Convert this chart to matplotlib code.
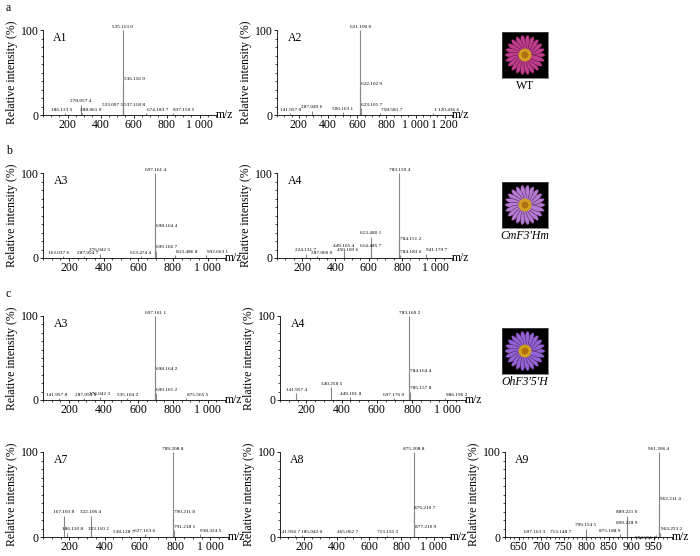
import matplotlib
matplotlib.use("Agg")
import matplotlib.pyplot as plt
from matplotlib.patches import Ellipse, Circle
import numpy as np

plt.rcParams['font.family'] = ['Liberation Serif', 'DejaVu Serif']

# ---- data ----
A1_mz = [186.1133, 278.0574, 288.0610, 533.0975, 535.1130, 536.1169, 537.1188, 674.1837, 837.1505]
A1_int = [2, 12, 2, 8, 100, 38, 8, 2, 2]
A1_lab = ["186.113 3", "278.057 4", "288.061 0", "533.097 5", "535.113 0", "536.116 9", "537.118 8", "674.183 7", "837.150 5"]

A2_mz = [141.9570, 287.0496, 500.1631, 621.1000, 622.1029, 623.1057, 758.5817, 1120.4366]
A2_int = [2, 5, 3, 100, 32, 8, 2, 2]
A2_lab = ["141.957 0", "287.049 6", "500.163 1", "621.100 0", "622.102 9", "623.105 7", "758.581 7", "1 120.436 6"]

B3_mz = [163.0376, 287.0547, 376.0425, 613.4744, 697.1614, 698.1644, 699.1667, 813.4868, 992.6631]
B3_int = [2, 2, 5, 2, 100, 33, 8, 3, 3]
B3_lab = ["163.037 6", "287.054 7", "376.042 5", "613.474 4", "697.161 4", "698.164 4", "699.166 7", "813.486 8", "992.663 1"]

B4_mz = [224.1317, 287.0600, 449.1054, 450.1096, 613.4801, 614.4857, 783.1594, 784.1512, 785.1836, 941.1797]
B4_int = [5, 2, 10, 5, 25, 10, 100, 18, 3, 5]
B4_lab = ["224.131 7", "287.060 0", "449.105 4", "450.109 6", "613.480 1", "614.485 7", "783.159 4", "784.151 2", "784.183 6", "941.179 7"]

C3_mz = [141.9578, 287.0539, 376.0423, 535.1042, 697.1611, 698.1642, 699.1652, 875.5655]
C3_int = [2, 2, 3, 2, 100, 33, 8, 2]
C3_lab = ["141.957 8", "287.053 9", "376.042 3", "535.104 2", "697.161 1", "698.164 2", "699.165 2", "875.565 5"]

C4_mz = [141.9574, 340.2585, 449.1018, 697.1760, 783.1602, 784.1644, 785.1578, 986.1962]
C4_int = [8, 15, 3, 2, 100, 30, 10, 2]
C4_lab = ["141.957 4", "340.258 5", "449.101 8", "697.176 0", "783.160 2", "784.164 4", "785.157 8", "986.196 2"]

D7_mz = [167.1038, 186.1108, 322.1064, 323.1102, 538.1287, 627.1636, 789.2088, 790.2118, 791.2181, 938.3245]
D7_int = [25, 5, 25, 5, 1, 3, 100, 25, 8, 3]
D7_lab = ["167.103 8", "186.110 8", "322.106 4", "323.110 2", "538.128 7", "627.163 6", "789.208 8", "790.211 8", "791.218 1", "938.324 5"]

D8_mz = [141.9567, 185.0420, 465.0627, 713.1552, 875.2088, 876.2107, 877.2109]
D8_int = [2, 2, 1, 2, 100, 30, 8]
D8_lab = ["141.956 7", "185.042 0", "465.062 7", "713.155 2", "875.208 8", "876.210 7", "877.210 9"]

D9_mz = [697.1633, 713.1487, 799.1545, 875.1889, 889.2210, 890.2289, 954.5566, 961.2064, 962.2114, 963.2532]
D9_int = [1, 1, 10, 3, 25, 8, 2, 100, 40, 5]
D9_lab = ["697.163 3", "713.148 7", "799.154 5", "875.188 9", "889.221 0", "890.228 9", "954.556 6", "961.206 4", "962.211 4", "963.253 2"]

# label nudges (fraction of x span, y in %) to avoid clutter
NUDGE = {"186.113 3": (-0.02, 0), "288.061 0": (0.05, 0), "533.097 5": (-0.06, 0),
         "287.054 7": (0.02, 0), "163.037 6": (-0.02, 0), "287.053 9": (0.01, 0),
         "141.957 8": (-0.01, 0), "141.956 7": (-0.03, 0), "185.042 0": (0.06, 0),
         "697.163 3": (-0.03, 0), "713.148 7": (0.08, 0), "875.188 9": (-0.06, 0),
         "890.228 9": (0.0, 4), "954.556 6": (-0.06, -8), "287.060 0": (0.03, 0),
         "450.109 6": (0.02, 0), "186.110 8": (0.03, 0), "323.110 2": (0.04, 0),
         "538.128 7": (-0.03, 0)}

W, H = 700, 556
fig = plt.figure(figsize=(7.0, 5.56), dpi=100)
FS = 8.5
LFS = 3.8

def ax_px(l, r, top, bot):
    return fig.add_axes([l / W, 1 - bot / H, (r - l) / W, (bot - top) / H])

def spectrum(l, r, top, bot, mz, it, lab, name, xlim, xticks, xtl):
    ax = ax_px(l, r, top, bot)
    ax.vlines(mz, 0, it, color='#888888', lw=0.8)
    ax.set_xlim(*xlim)
    ax.set_ylim(0, 100)
    for s in ['top', 'right']:
        ax.spines[s].set_visible(False)
    for s in ['left', 'bottom']:
        ax.spines[s].set_linewidth(0.6)
    ax.set_xticks(xticks)
    ax.set_xticklabels(xtl, fontsize=FS)
    ax.minorticks_on()
    ax.set_yticks([0, 100])
    ax.set_yticklabels(['0', '100'], fontsize=FS)
    ax.set_yticks([10, 20, 30, 40, 50, 60, 70, 80, 90], minor=True)
    ax.tick_params(length=2, width=0.6, pad=1)
    ax.tick_params(which='minor', length=1.2, width=0.5)
    ax.set_ylabel('Relative intensity (%)', fontsize=FS, labelpad=2)
    ax.text(0.06, 0.98, name, transform=ax.transAxes, fontsize=FS, va='top')
    ax.text(1.0, 0.0, 'm/z', transform=ax.transAxes, fontsize=FS, va='center', ha='left')
    imax = int(np.argmax(it))
    span = xlim[1] - xlim[0]
    for i, (m, v, t) in enumerate(zip(mz, it, lab)):
        dx, dy = NUDGE.get(t, (0, 0))
        if i == imax:
            ax.text(m, v + 1, t, fontsize=LFS, ha='center', va='bottom')
        elif m > mz[imax]:
            ax.text(m + span * (0.004 + dx), v + 2 + dy, t, fontsize=LFS, ha='left', va='bottom')
        else:
            ax.text(m + span * dx, v + 2 + dy, t, fontsize=LFS, ha='center', va='bottom')
    return ax

t1000 = [200, 400, 600, 800, 1000]
l1000 = ['200', '400', '600', '800', '1 000']
spectrum(43, 216, 30, 115, A1_mz, A1_int, A1_lab, 'A1', (50, 1100), t1000, l1000)
spectrum(277, 452, 30, 115, A2_mz, A2_int, A2_lab, 'A2', (50, 1250), t1000 + [1200], l1000 + ['1 200'])
spectrum(43, 225, 173, 258, B3_mz, B3_int, B3_lab, 'A3', (50, 1100), t1000, l1000)
spectrum(277, 452, 173, 258, B4_mz, B4_int, B4_lab, 'A4', (50, 1100), t1000, l1000)
spectrum(43, 225, 316, 400, C3_mz, C3_int, C3_lab, 'A3', (50, 1100), t1000, l1000)
spectrum(280, 465, 316, 400, C4_mz, C4_int, C4_lab, 'A4', (50, 1100), t1000, l1000)
spectrum(43, 228, 452, 537, D7_mz, D7_int, D7_lab, 'A7', (50, 1100), t1000, l1000)
spectrum(280, 450, 452, 537, D8_mz, D8_int, D8_lab, 'A8', (50, 1100), t1000, l1000)
spectrum(505, 672, 452, 537, D9_mz, D9_int, D9_lab, 'A9', (620, 990),
         [650, 700, 750, 800, 850, 900, 950], ['650', '700', '750', '800', '850', '900', '950'])

def flower(l, top, size, petal, label, italic):
    ax = ax_px(l, l + size, top, top + size)
    ax.set_facecolor('black')
    ax.set_xlim(-1, 1); ax.set_ylim(-1, 1)
    ax.set_xticks([]); ax.set_yticks([])
    for s in ax.spines.values():
        s.set_color('#555555'); s.set_linewidth(0.5)
    for k in range(22):
        a = 2 * np.pi * k / 22
        ax.add_patch(Ellipse((0.5 * np.cos(a), 0.5 * np.sin(a)), 0.75, 0.22,
                             angle=np.degrees(a), color=petal, ec='#40102a', lw=0.3))
    ax.add_patch(Circle((0, 0), 0.25, color='#d4a020'))
    ax.add_patch(Circle((0, 0), 0.12, color='#b07010'))
    fig.text((l + size / 2) / W, 1 - (top + size + 2) / H, label, ha='center', va='top',
             fontsize=FS, style='italic' if italic else 'normal')

flower(502, 32, 46, '#c03c8c', 'WT', False)
flower(502, 182, 46, '#b27ad2', "CmF3'Hm", True)
flower(502, 328, 46, '#9064d8', "OhF3'5'H", True)

fig.text(6 / W, 1 - 8 / H, 'a', fontsize=FS, va='center')
fig.text(6 / W, 1 - 151 / H, 'b', fontsize=FS, va='center')
fig.text(6 / W, 1 - 294 / H, 'c', fontsize=FS, va='center')

fig.savefig('out.png', dpi=100)
